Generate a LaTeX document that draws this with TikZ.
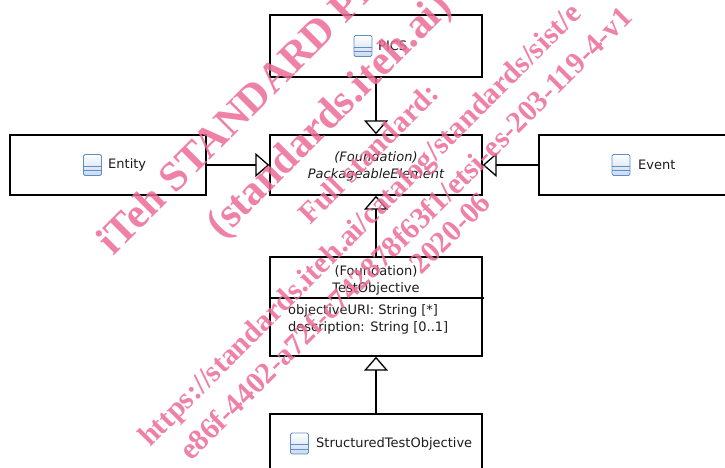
\documentclass[tikz,border=0pt]{standalone}
\usepackage{fontspec}
\setmainfont{DejaVu Sans}
\newfontfamily\wmfont{Liberation Serif}
\usetikzlibrary{arrows.meta}
\definecolor{iconblue}{RGB}{98,140,198}
\definecolor{iconlight}{RGB}{200,218,240}
\definecolor{wmpink}{RGB}{236,108,150}
\definecolor{txt}{RGB}{28,28,28}
\begin{document}
\begin{tikzpicture}[x=1pt,y=-1pt,
  box/.style={draw=black, line width=1.4pt, inner sep=0pt},
  lbl/.style={font=\fontsize{13}{17}\selectfont, text=txt, inner sep=0pt},
  ilbl/.style={font=\fontsize{13}{17}\selectfont\itshape, text=txt, inner sep=0pt},
  gen/.style={line width=1.3pt, -{Triangle[open, length=14pt, width=24pt, line width=1.3pt]}},
  clsicon/.style={draw=iconblue, line width=0.9pt, rounded corners=1.5pt,
    minimum width=18pt, minimum height=21pt, inner sep=0pt,
    top color=white, bottom color=iconlight,
    path picture={
      \draw[iconblue, line width=0.8pt]
        ([yshift=-11.5pt]path picture bounding box.north west) --
        ([yshift=-11.5pt]path picture bounding box.north east);
      \draw[iconblue, line width=0.8pt]
        ([yshift=-16.3pt]path picture bounding box.north west) --
        ([yshift=-16.3pt]path picture bounding box.north east);
    }},
  wmbig/.style={font=\wmfont\bfseries\fontsize{42}{42}\selectfont, text=wmpink, rotate=45, inner sep=0pt, opacity=0.85},
  wmsmall/.style={font=\wmfont\bfseries\fontsize{30}{30}\selectfont, text=wmpink, rotate=45, inner sep=0pt, opacity=0.85}
]
\useasboundingbox (0,0) rectangle (725,468);
\fill[white] (0,0) rectangle (725,468);
\clip (0,0) rectangle (725,468);

% PICS
\node[box, minimum width=212pt, minimum height=62pt] (pics) at (376,46) {};
\node[clsicon] (picsicon) at (363,46) {};
\node[lbl, anchor=west] (picstext) at (378,46) {PICS};

% PackageableElement
\node[box, minimum width=212pt, minimum height=60pt] (pe) at (376,165) {};
\node[ilbl, align=center] (petext) at (376,166) {(Foundation)\\PackageableElement};

% Entity
\node[box, minimum width=196pt, minimum height=60pt] (entity) at (108,165) {};
\node[clsicon] (entityicon) at (92.5,165) {};
\node[lbl, anchor=west] (entitytext) at (108,165) {Entity};

% Event
\node[box, minimum width=206pt, minimum height=60pt] (event) at (642,165) {};
\node[clsicon] (eventicon) at (621,165) {};
\node[lbl, anchor=west] (eventtext) at (638,165) {Event};

% TestObjective
\node[box, minimum width=212pt, minimum height=99pt] (to) at (376,306.5) {};
\node[lbl, align=center] (totitle) at (376,280) {(Foundation)\\TestObjective};
\coordinate (sepL) at (270,298);
\coordinate (sepR) at (484,298);
\draw[line width=1.4pt] (sepL) -- (sepR);
\node[lbl, align=left, anchor=north west] (toattr) at (288,304) {objectiveURI: String [*]\\description: String [0..1]};

% StructuredTestObjective
\node[box, minimum width=212pt, minimum height=59pt] (sto) at (376,443.5) {};
\node[clsicon] (stoicon) at (299.5,443.5) {};
\node[lbl, anchor=west] (stotext) at (316,443.5) {StructuredTestObjective};

% generalizations
\draw[gen] (pics.south) -- (pe.north);
\draw[gen] (entity.east) -- (pe.west);
\draw[gen] (event.west) -- (pe.east);
\draw[gen] (to.north) -- (pe.south);
\draw[gen] (sto.north) -- (to.south);

% watermark
\node[wmbig, anchor=base west] (wm1) at (113,257) {iTeh STANDARD PREVIEW};
\node[wmbig, anchor=base west] (wm2) at (222,240) {(standards.iteh.ai)};
\node[wmsmall, anchor=base west] (wm3) at (310,226) {Full standard:};
\node[wmsmall, anchor=base west] (wm4) at (150,448) {https://standards.iteh.ai/catalog/standards/sist/e};
\node[wmsmall, anchor=base west] (wm5) at (191,462) {e86f-4402-a72f-c742878f63f1/etsi-es-203-119-4-v1};
\node[wmsmall, anchor=base] (wm6) at (457,240) {2020-06};
\end{tikzpicture}
\end{document}
